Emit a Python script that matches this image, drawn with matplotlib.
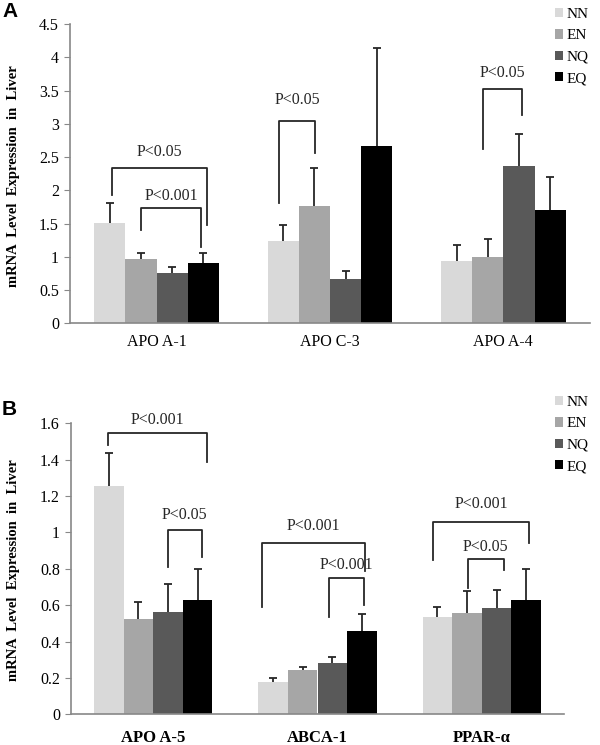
import numpy as np
import matplotlib
matplotlib.use("Agg")
import matplotlib.pyplot as plt

plt.rcParams["font.family"] = ["Liberation Serif", "DejaVu Serif"]

groups = ["NN", "EN", "NQ", "EQ"]
colors = ["#d9d9d9", "#a6a6a6", "#595959", "#000000"]

# panel A
genes_a = ["APO A-1", "APO C-3", "APO A-4"]
means_a = {
    "NN": [1.51, 1.23, 0.93],
    "EN": [0.97, 1.77, 1.00],
    "NQ": [0.76, 0.67, 2.36],
    "EQ": [0.91, 2.67, 1.70],
}
err_a = {
    "NN": [0.30, 0.25, 0.24],
    "EN": [0.08, 0.56, 0.26],
    "NQ": [0.09, 0.12, 0.49],
    "EQ": [0.14, 1.47, 0.50],
}

# panel B
genes_b = ["APO A-5", "ABCA-1", "PPAR-α"]
means_b = {
    "NN": [1.257, 0.18, 0.537],
    "EN": [0.524, 0.244, 0.559],
    "NQ": [0.564, 0.284, 0.586],
    "EQ": [0.628, 0.458, 0.628],
}
err_b = {
    "NN": [0.18, 0.02, 0.055],
    "EN": [0.095, 0.016, 0.12],
    "NQ": [0.155, 0.033, 0.095],
    "EQ": [0.17, 0.095, 0.17],
}

# significance brackets: (gene, left group, right group, line y, left end, right end, label, label y, left shift, right shift)
brackets_a = [
    (0, 0, 3, 2.33, 1.93, 1.48, "P<0.05", 2.58, 0.014, 0.021),
    (0, 1, 3, 1.73, 1.40, 1.15, "P<0.001", 1.91, 0.0, -0.012),
    (1, 0, 1, 3.04, 1.81, 2.56, "P<0.05", 3.36, -0.023, 0.006),
    (2, 1, 2, 3.52, 2.62, 3.13, "P<0.05", 3.76, -0.029, 0.017),
]
brackets_b = [
    (0, 0, 3, 1.545, 1.48, 1.389, "P<0.001", 1.62, -0.006, 0.058),
    (0, 2, 3, 1.013, 0.81, 0.866, "P<0.05", 1.096, 0.0, 0.026),
    (1, 0, 3, 0.94, 0.59, 0.79, "P<0.001", 1.035, -0.068, 0.018),
    (1, 2, 3, 0.751, 0.537, 0.60, "P<0.001", 0.82, -0.018, 0.012),
    (2, 0, 3, 1.059, 0.848, 0.94, "P<0.001", 1.156, -0.03, 0.02),
    (2, 1, 2, 0.852, 0.693, 0.793, "P<0.05", 0.921, 0.006, 0.043),
]

width = 0.18
offsets = (np.arange(4) - 1.5) * width
ink = "#262626"


def draw_panel(ax, genes, means, errs, brackets, ymax, step, bold_labels):
    x = np.arange(len(genes))
    for i, g in enumerate(groups):
        bars = ax.bar(x + offsets[i], means[g], width, color=colors[i], label=g,
                      yerr=[np.zeros(len(genes)), errs[g]],
                      error_kw=dict(ecolor=ink, elinewidth=1.3, capsize=3, capthick=1.3),
                      zorder=2)
        # only the upper cap, as in the original
        bars.errorbar.lines[1][0].set_visible(False)

    for gi, l, r, ly, lb, rb, txt, ty, ls, rs in brackets:
        xl = gi + offsets[l] + ls
        xr = gi + offsets[r] + rs
        ax.plot([xl, xl, xr, xr], [lb, ly, ly, rb], color=ink, lw=1.3,
                clip_on=False, zorder=3)
        ax.text((xl + xr) / 2, ty, txt, ha="center", va="center", fontsize=11.5,
                color=ink, clip_on=False)

    ax.set_xlim(-0.5, len(genes) - 0.5)
    ax.set_ylim(0, ymax)
    ticks = np.arange(0, ymax + step / 2, step)
    ax.set_yticks(ticks)
    ax.set_yticklabels([f"{t:g}" for t in ticks], fontsize=11.5)
    ax.set_xticks(x)
    ax.set_xticklabels(genes, fontsize=12 if bold_labels else 11.5,
                       fontweight="bold" if bold_labels else "normal")
    ax.tick_params(axis="x", length=0, pad=11 if bold_labels else 8)
    ax.tick_params(axis="y", length=4, color="#888888", pad=4)
    for s in ["top", "right"]:
        ax.spines[s].set_visible(False)
    for s in ["left", "bottom"]:
        ax.spines[s].set_color("#888888")
        ax.spines[s].set_linewidth(1.2)


fig = plt.figure(figsize=(6.0, 7.45), dpi=100)

ax_a = fig.add_axes([70 / 600, 1 - 323.3 / 745, 520 / 600, 299.3 / 745])
draw_panel(ax_a, genes_a, means_a, err_a, brackets_a, 4.5, 0.5, False)

ax_b = fig.add_axes([71 / 600, 1 - 714.3 / 745, 493 / 600, 291 / 745])
draw_panel(ax_b, genes_b, means_b, err_b, brackets_b, 1.6, 0.2, True)

for ax, top in [(ax_a, 8 / 745), (ax_b, 396 / 745)]:
    ax.legend(loc="upper left", bbox_to_anchor=(555 / 600, 1 - top), bbox_transform=fig.transFigure,
              frameon=False, fontsize=11, handlelength=0.55, handleheight=0.55,
              handletextpad=0.2, labelspacing=0.55, borderpad=0, borderaxespad=0)

ylabel = "mRNA  Level  Expression  in  Liver"
fig.text(14 / 600, 1 - 176 / 745, ylabel, rotation=90, ha="center", va="center",
         fontsize=10.5, fontweight="bold")
fig.text(14 / 600, 1 - 570 / 745, ylabel, rotation=90, ha="center", va="center",
         fontsize=10.5, fontweight="bold")

fig.text(2 / 600, 1 - 2 / 745, "A", fontsize=15, fontweight="bold",
         family="Liberation Sans", ha="left", va="top")
fig.text(2 / 600, 1 - 400 / 745, "B", fontsize=15, fontweight="bold",
         family="Liberation Sans", ha="left", va="top")

fig.savefig("out.png", dpi=100)
